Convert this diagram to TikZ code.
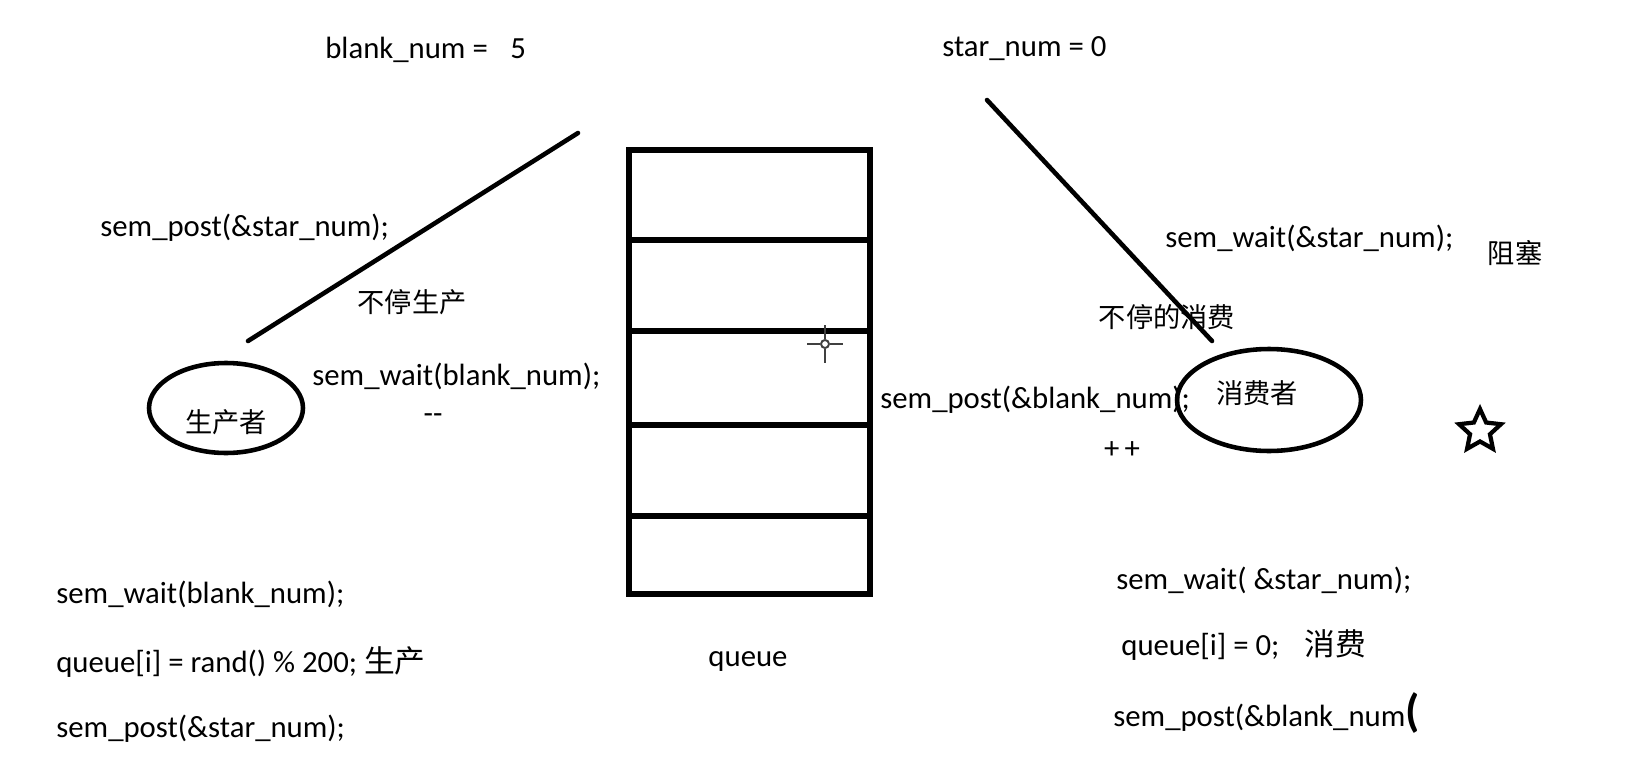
\documentclass[tikz,border=0pt]{standalone}
\usepackage{fontspec}
\setmainfont{Carlito}
\newfontfamily\cjk{Noto Sans CJK SC}
\usetikzlibrary{positioning,shapes.geometric}

\begin{document}
\begin{tikzpicture}[
    x=0.02cm, y=-0.02cm,
    code/.style={anchor=west, inner sep=0pt, font=\fontsize{17.5}{20}\selectfont},
    note/.style={inner sep=0pt, font=\cjk\fontsize{15.5}{18}\selectfont},
    actor/.style={ellipse, draw, line width=2.6pt, inner sep=0pt},
    stroke/.style={line width=2.6pt, line cap=round},
    wall/.style={line width=3pt},
    pointer/.style={line width=1.1pt, color=black!75}
  ]
    \useasboundingbox (0,0) rectangle (1646,784);

    % counters
    \node[code] (blank) at (325,50) {blank\_num =\hspace{0.45cm}5};
    \node[code] (stars) at (942,49) {star\_num = 0};

    % producer side
    \coordinate (pa) at (578,133);
    \coordinate (pb) at (248,341);
    \draw[stroke] (pa) -- (pb);
    \node[code] (ppost) at (100,228) {sem\_post(\&star\_num);};
    \node[note] (pbusy) at (412,302) {不停生产};
    \node[code] (pwait) at (312,376) {sem\_wait(blank\_num);};
    \node[code, anchor=center] (pdec) at (433,419) {-{}-};
    \node[actor, minimum width=3.08cm, minimum height=1.8cm,
          label={[note, yshift=-0.28cm]center:生产者}] (producer) at (226,408) {};

    % queue
    \node[draw, wall, minimum width=4.82cm, minimum height=8.88cm, inner sep=0pt] (buffer) at (749.5,372) {};
    \foreach \yy in {240,331,425,516}
      \draw[wall] (buffer.west |- 0,\yy) -- (buffer.east |- 0,\yy);
    \node[code, anchor=center] (qname) at (748,662) {queue};

    % mouse pointer
    \coordinate (mouse) at (825,344);
    \draw[pointer] (mouse) circle[radius=0.08cm];
    \draw[pointer] (mouse) ++(-18,0) -- ++(13,0);
    \draw[pointer] (mouse) ++(5,0) -- ++(13,0);
    \draw[pointer] (mouse) ++(0,-19) -- ++(0,14);
    \draw[pointer] (mouse) ++(0,5) -- ++(0,14);

    % consumer side
    \coordinate (ca) at (987,100);
    \coordinate (cb) at (1212,341);
    \draw[stroke] (ca) -- (cb);
    \node[code] (cwait) at (1165,238) {sem\_wait(\&star\_num);};
    \node[note] (cblock) at (1515,253) {阻塞};
    \node[note] (cbusy) at (1167,317) {不停的消费};
    \node[code] (cpost) at (880,400) {sem\_post(\&blank\_num);};
    \node[code, anchor=center] (cinc) at (1122,450) {+\,+};
    \node[actor, minimum width=3.68cm, minimum height=2.04cm,
          label={[note, xshift=-0.24cm, yshift=0.14cm]center:消费者}] (consumer) at (1269,400) {};
    \node[star, star points=5, star point ratio=2.1, draw, line width=2.4pt,
          minimum size=0.88cm, inner sep=0pt] (mark) at (1480,431) {};

    % producer loop
    \node[code] (pl1) at (56,594) {sem\_wait(blank\_num);};
    \node[code, below=1.36cm of pl1.west, anchor=west] (pl2) {queue[i] = rand() \% 200; {\cjk 生产}};
    \node[code, below=1.34cm of pl2.west, anchor=west] (pl3) {sem\_post(\&star\_num);};

    % consumer loop
    \node[code] (cl1) at (1116,580) {sem\_wait( \&star\_num);};
    \node[code] (cl2) at (1121,645) {queue[i] = 0;\hspace{0.5cm}{\cjk 消费}};
    \node[code] (cl3) at (1113,713) {sem\_post(\&blank\_num{\bfseries\fontsize{26}{26}\selectfont(}};
\end{tikzpicture}
\end{document}
